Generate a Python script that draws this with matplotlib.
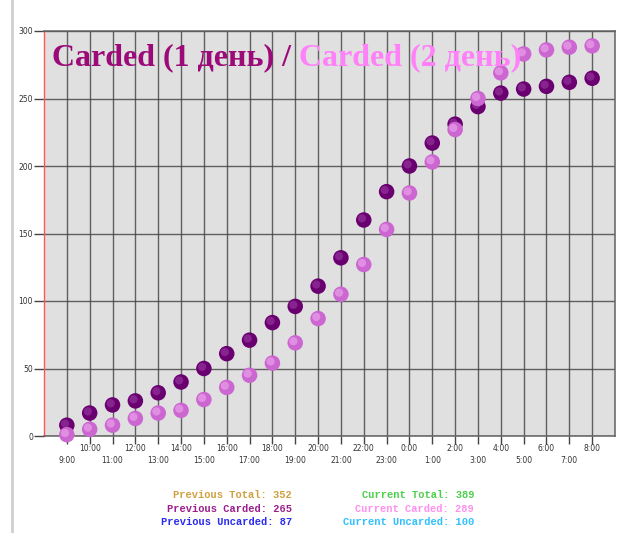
import matplotlib.pyplot as plt
from matplotlib.lines import Line2D

hours = ['9:00', '10:00', '11:00', '12:00', '13:00', '14:00', '15:00', '16:00',
         '17:00', '18:00', '19:00', '20:00', '21:00', '22:00', '23:00', '0:00',
         '1:00', '2:00', '3:00', '4:00', '5:00', '6:00', '7:00', '8:00']
previous_carded = [8, 17, 23, 26, 32, 40, 50, 61, 71, 84, 96, 111, 132, 160, 181, 200,
                   217, 231, 244, 254, 257, 259, 262, 265]
current_carded = [1, 5, 8, 13, 17, 19, 27, 36, 45, 54, 69, 87, 105, 127, 153, 180,
                  203, 227, 250, 269, 283, 286, 288, 289]
y_ticks = [0, 50, 100, 150, 200, 250, 300]

summary_left = [('Previous Total', 352, '#d0a040'),
                ('Previous Carded', 265, '#9a1e8c'),
                ('Previous Uncarded', 87, '#2a2af0')]
summary_right = [('Current Total', 389, '#4ccf4c'),
                 ('Current Carded', 289, '#ff90f0'),
                 ('Current Uncarded', 100, '#30c0ff')]

fig = plt.figure(figsize=(6.4, 5.33), dpi=100)
ax = fig.add_axes([44 / 640, 1 - 436 / 533, 571 / 640, 405 / 533])
ax.set_facecolor('#e0e0e0')

x = list(range(len(hours)))

# spheres: base disc + small highlight
def spheres(vals, base, light, z):
    ax.scatter(x, vals, s=125, color=base, edgecolors='none', zorder=z, clip_on=False)
    ax.scatter([i - 0.08 for i in x], [v + 1.2 for v in vals], s=35, color=light,
               edgecolors='none', alpha=0.55, zorder=z + 0.1, clip_on=False)

spheres(previous_carded, '#6a0070', '#a040a8', 3)
spheres(current_carded, '#cc66d0', '#f2b0f2', 4)

ax.set_xlim(-1, 24)
ax.set_ylim(0, 300)

# odd hours on the upper row, even ones on the lower row
ax.set_xticks([i for i in x if i % 2 == 1])
ax.set_xticklabels([hours[i] for i in x if i % 2 == 1])
ax.set_xticks([i for i in x if i % 2 == 0], minor=True)
ax.set_xticklabels([hours[i] for i in x if i % 2 == 0], minor=True)
ax.tick_params(axis='x', which='major', length=6, pad=0, labelsize=5.5,
               color='#444444', labelcolor='#333333', width=1)
ax.tick_params(axis='x', which='minor', length=6, pad=8.5, labelsize=5.5,
               color='#444444', labelcolor='#333333', width=1)
ax.set_yticks(y_ticks)
ax.tick_params(axis='y', length=7, pad=1, labelsize=5.5, color='#444444',
               labelcolor='#333333', width=1)

ax.grid(True, which='both', color='#404040', linewidth=1.0, alpha=0.8)
ax.set_axisbelow(True)
for side in ['top', 'right', 'bottom']:
    ax.spines[side].set_color('#606060')
    ax.spines[side].set_linewidth(1.1)
ax.spines['left'].set_color('#ff5555')
ax.spines['left'].set_linewidth(1.0)

# two-coloured title: second part placed right after the first
t1 = ax.text(0.014, 0.97, 'Carded (1 день) / ', transform=ax.transAxes, ha='left', va='top',
             fontsize=23, fontweight='bold', family='Liberation Serif', color='#9b0a78', zorder=5)
fig.canvas.draw()
bb = t1.get_window_extent().transformed(ax.transAxes.inverted())
ax.text(bb.x1, 0.97, 'Carded (2 день)', transform=ax.transAxes, ha='left', va='top',
        fontsize=23, fontweight='bold', family='Liberation Serif', color='#ff80f8', zorder=5)

for k, (name, val, col) in enumerate(summary_left):
    fig.text(292 / 640, 1 - (495 + 13.5 * k) / 533, f'{name}: {val}', ha='right', va='center',
             fontsize=7.5, family='Liberation Mono', fontweight='bold', color=col)
for k, (name, val, col) in enumerate(summary_right):
    fig.text(474 / 640, 1 - (495 + 13.5 * k) / 533, f'{name}: {val}', ha='right', va='center',
             fontsize=7.5, family='Liberation Mono', fontweight='bold', color=col)

fig.add_artist(Line2D([12 / 640, 12 / 640], [0, 1], color='#d0d0d0', linewidth=2,
                      transform=fig.transFigure))

fig.savefig('out.png', dpi=100)
